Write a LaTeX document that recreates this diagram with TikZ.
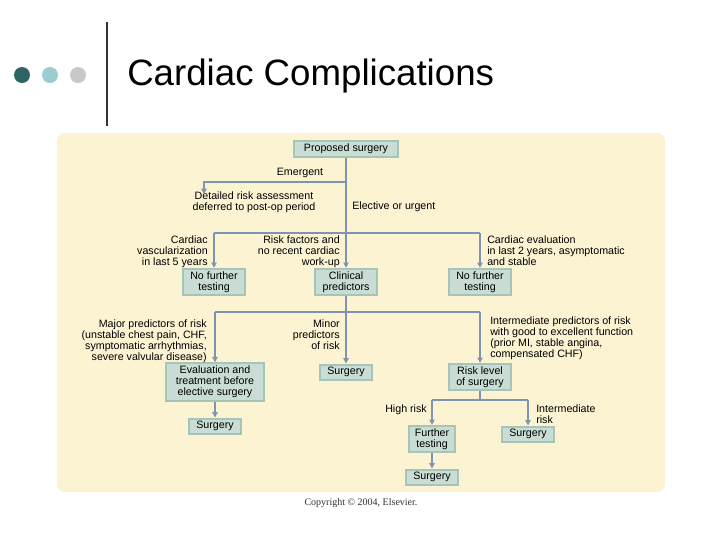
\documentclass[tikz,border=0pt]{standalone}
\usepackage{fontspec}
\setmainfont{Liberation Sans}
\newfontfamily\serifcopy{Liberation Serif}
\usetikzlibrary{arrows.meta}
\definecolor{panel}{HTML}{FBF3D2}
\definecolor{boxf}{HTML}{C9DDD4}
\definecolor{boxd}{HTML}{A6C4B8}
\definecolor{ln}{HTML}{7F93B3}
\definecolor{dteal}{HTML}{2F6466}
\definecolor{lteal}{HTML}{9CCBD0}
\definecolor{gry}{HTML}{C8C8C8}
\tikzset{
 bx/.style={draw=boxd,line width=1.5pt,fill=boxf,align=center,font=\fontsize{8}{8.3}\selectfont,inner sep=2pt},
 lbl/.style={font=\fontsize{8}{8.3}\selectfont,inner sep=0pt},
 cn/.style={draw=ln,line width=1.4pt},
 ar/.style={cn,-{Triangle[length=4pt,width=4pt]}}
}
\begin{document}
\begin{tikzpicture}[x=0.75pt,y=-0.75pt]
\useasboundingbox (0,0) rectangle (720,540);
\fill[white] (0,0) rectangle (720,540);
\fill[dteal] (22,75) circle (8);
\fill[lteal] (50,75) circle (8);
\fill[gry] (78,75) circle (8);
\draw[black!80,line width=2.2pt] (107,22) -- (107,126);
\node[anchor=west,font=\fontsize{27.5}{30}\selectfont,inner sep=0pt] (title) at (127,76) {Cardiac Complications};
\fill[panel,rounded corners=6pt] (57,133) rectangle (665,492);
\node[bx,minimum width=78pt,minimum height=11pt] (ps) at (346,149) {Proposed surgery};
\coordinate (e1) at (346,182);
\coordinate (e2) at (204,182);
\node[lbl] (emer) at (300,173) {Emergent};
\node[lbl,align=center] (det) at (254,202) {Detailed risk assessment\\deferred to post-op period};
\node[lbl,anchor=west] (elec) at (352,207) {Elective or urgent};
\draw[cn] (ps) -- (346,233);
\draw[ar] (e1) -- (e2) -- (204,194);
\coordinate (h1) at (346,233);
\node[bx,minimum width=46pt,minimum height=18pt] (nf1) at (214,282) {No further\\testing};
\node[bx,minimum width=46pt,minimum height=18pt] (cp) at (346,282) {Clinical\\predictors};
\node[bx,minimum width=46pt,minimum height=18pt] (nf2) at (480,282) {No further\\testing};
\draw[cn] (214,233) -- (480,233);
\draw[ar] (214,233) -- (nf1);
\draw[ar] (h1) -- (cp);
\draw[ar] (480,233) -- (nf2);
\node[lbl,align=right,anchor=north east] at (208,235) {Cardiac\\vascularization\\in last 5 years};
\node[lbl,align=right,anchor=north east] at (340,235) {Risk factors and\\no recent cardiac\\work-up};
\node[lbl,align=left,anchor=north west] at (487,235) {Cardiac evaluation\\in last 2 years, asymptomatic\\and stable};
\coordinate (h2) at (346,312);
\node[bx,minimum width=73pt,minimum height=26pt] (ev) at (215,382) {Evaluation and\\treatment before\\elective surgery};
\node[bx,minimum width=39pt,minimum height=11pt] (s1) at (346,372) {Surgery};
\node[bx,minimum width=46pt,minimum height=18pt] (rl) at (480,377) {Risk level\\of surgery};
\draw[cn] (cp) -- (h2);
\draw[cn] (215,312) -- (480,312);
\draw[ar] (215,312) -- (ev);
\draw[ar] (h2) -- (s1);
\draw[ar] (480,312) -- (rl);
\node[lbl,align=right,anchor=north east] at (207,319) {Major predictors of risk\\(unstable chest pain, CHF,\\symptomatic arrhythmias,\\severe valvular disease)};
\node[lbl,align=right,anchor=north east] at (340,319) {Minor\\predictors\\of risk};
\node[lbl,align=left,anchor=north west] at (490,316) {Intermediate predictors of risk\\with good to excellent function\\(prior MI, stable angina,\\compensated CHF)};
\node[bx,minimum width=39pt,minimum height=11pt] (s2) at (215,426) {Surgery};
\draw[ar] (ev) -- (s2);
\coordinate (h3) at (480,400);
\node[bx,minimum width=34pt,minimum height=18pt] (ft) at (432,439) {Further\\testing};
\node[bx,minimum width=39pt,minimum height=11pt] (s3) at (528,434) {Surgery};
\node[bx,minimum width=39pt,minimum height=11pt] (s4) at (432,477) {Surgery};
\draw[cn] (rl) -- (h3);
\draw[cn] (432,400) -- (528,400);
\draw[ar] (432,400) -- (ft);
\draw[ar] (528,400) -- (s3);
\draw[ar] (ft) -- (s4);
\node[lbl,anchor=east] at (427,410) {High risk};
\node[lbl,align=left,anchor=north west] at (536,404) {Intermediate\\risk};
\node[font=\serifcopy\fontsize{7.5}{9}\selectfont,text=black!80] (copy) at (361,503) {Copyright © 2004, Elsevier.};
\end{tikzpicture}
\end{document}
